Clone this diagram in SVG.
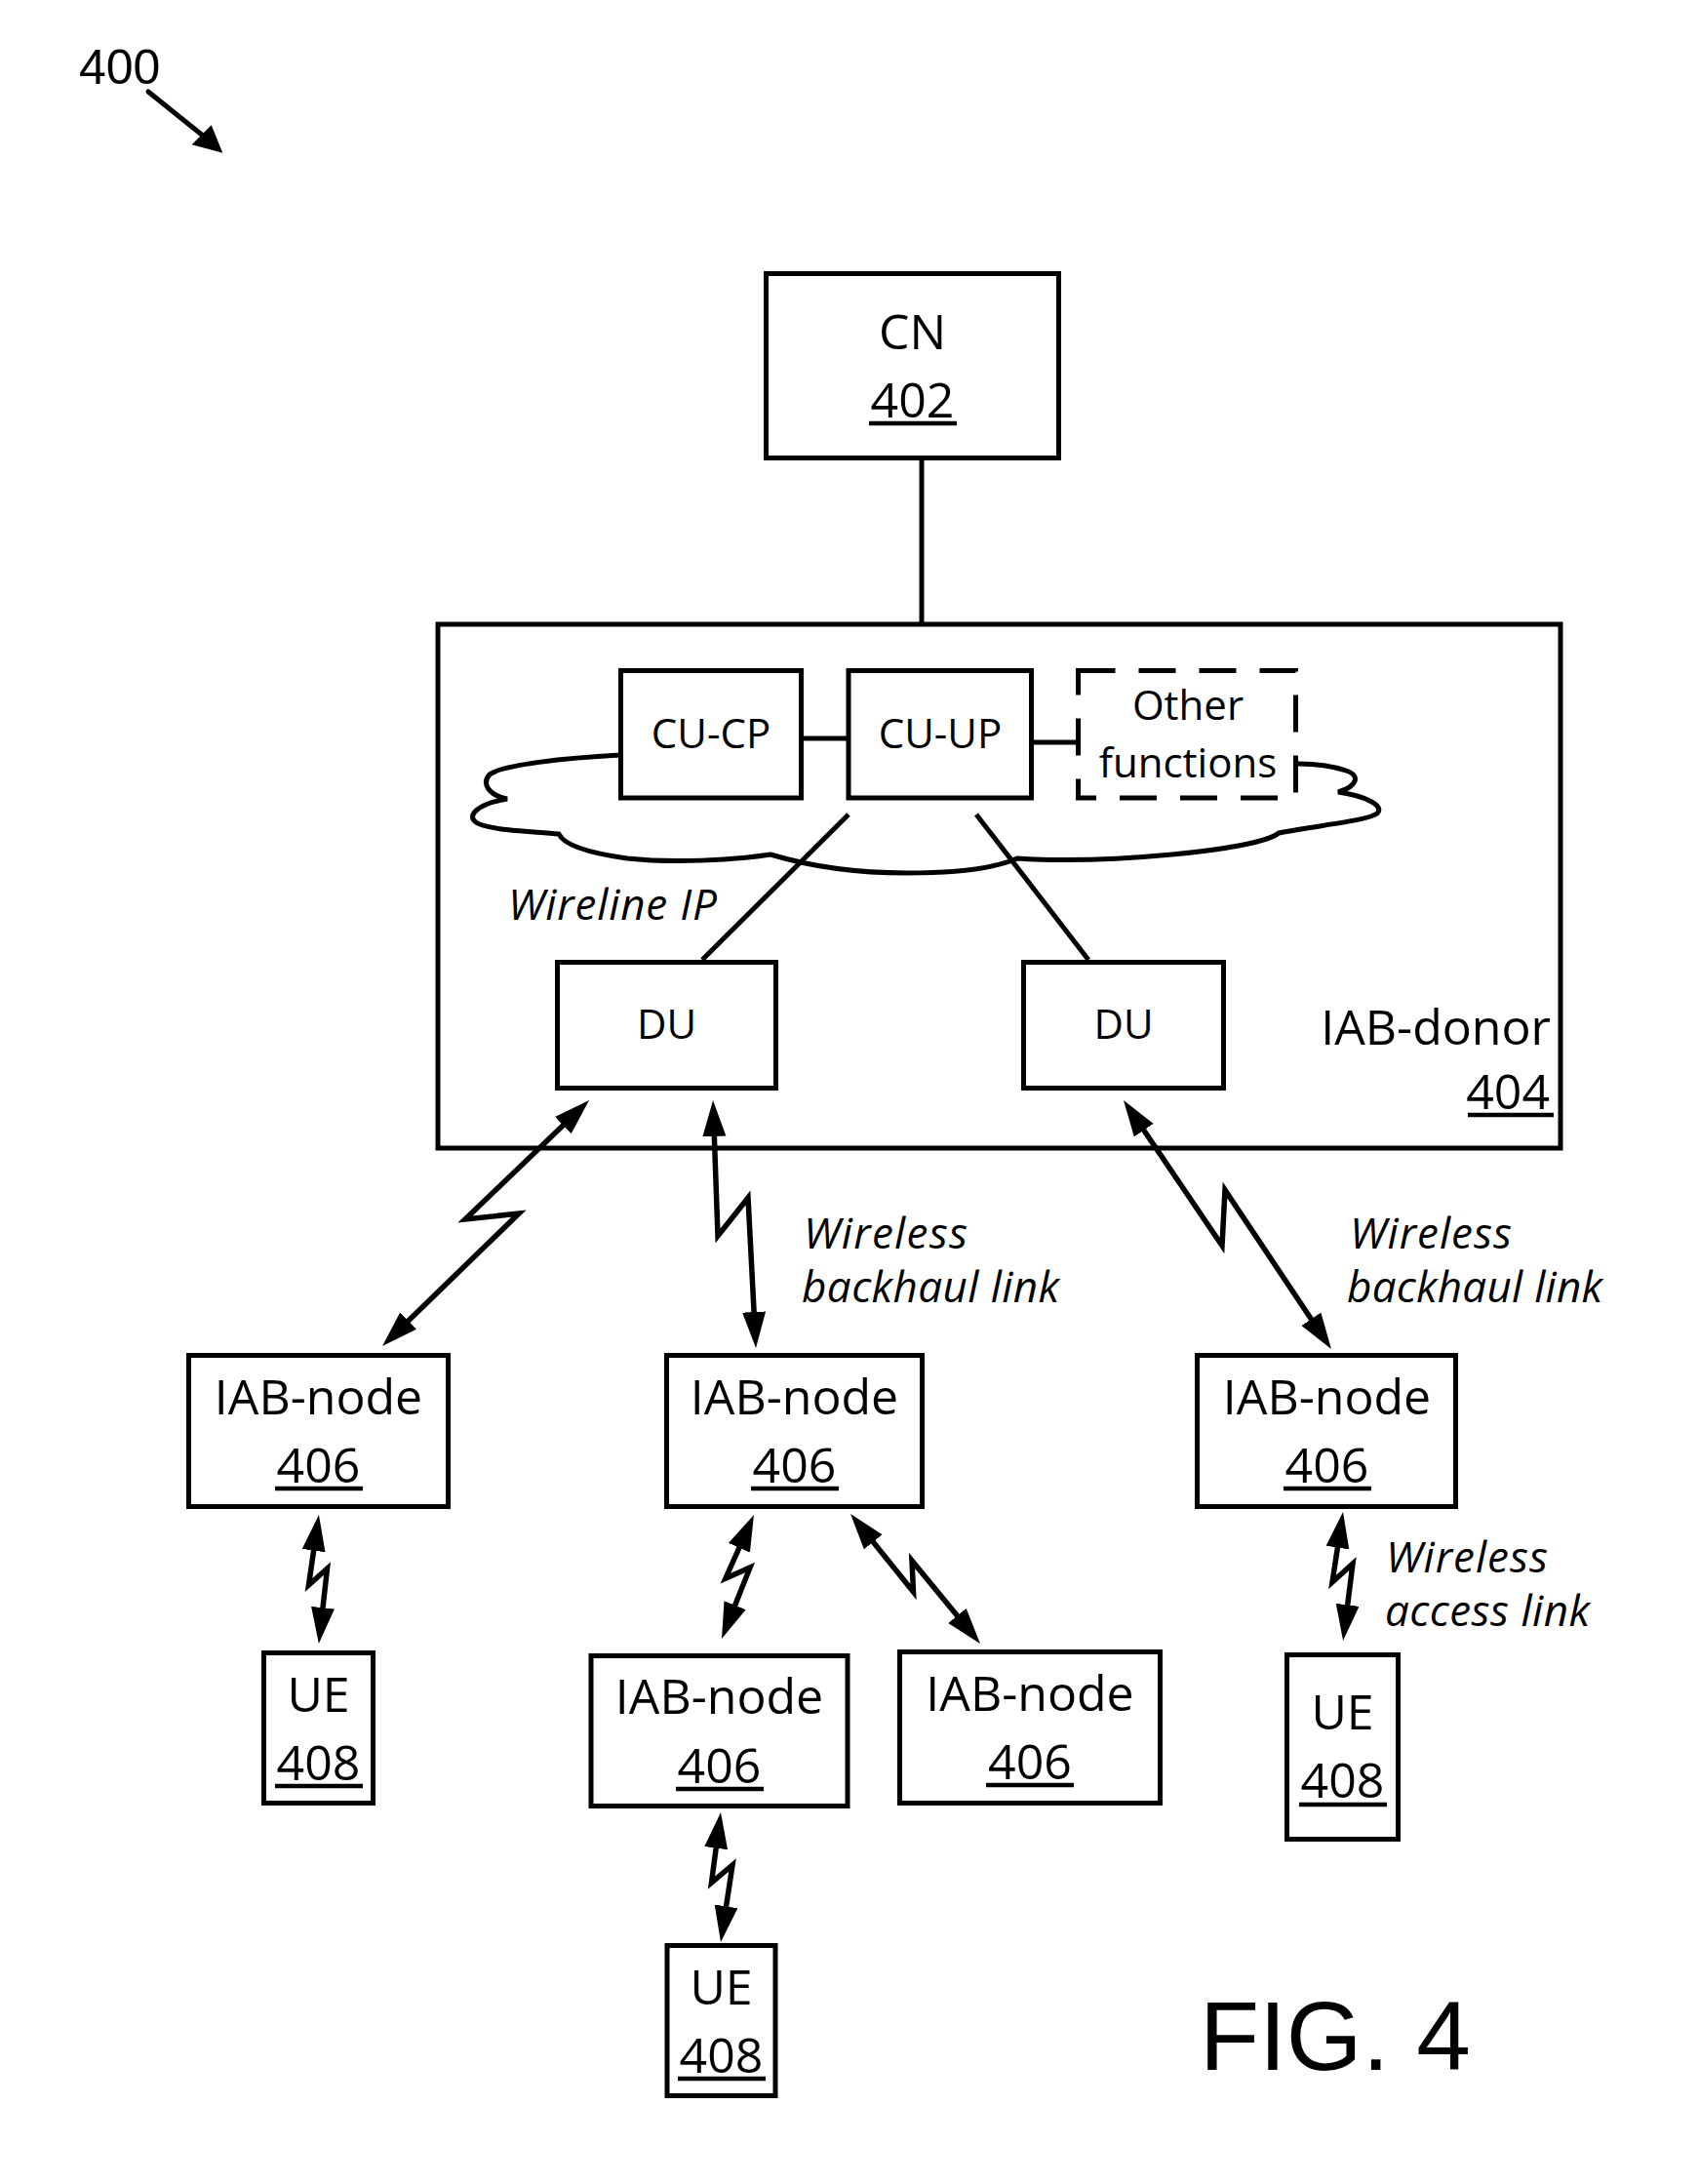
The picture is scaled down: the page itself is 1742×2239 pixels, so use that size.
<svg xmlns="http://www.w3.org/2000/svg" width="1742" height="2239" viewBox="0 0 1742 2239">
<style>
.box{fill:#fff;stroke:#000;stroke-width:5}
.dash{fill:#fff;stroke:#000;stroke-width:5;stroke-dasharray:38 24}
.ln{fill:none;stroke:#000;stroke-width:5}
.arr{fill:none;stroke:#000;stroke-width:5.5;stroke-linejoin:miter;marker-start:url(#ah);marker-end:url(#ah)}
.ul{stroke:#000;stroke-width:4.5}
text{font-family:"Open Sans","Noto Sans",sans-serif;fill:#000}
.t50{font-size:50px;text-anchor:middle}
.t42{font-size:42px;text-anchor:middle}
.it{font-size:44px;font-style:italic}
</style>
<defs>
<marker id="ah" markerUnits="userSpaceOnUse" markerWidth="40" markerHeight="26" refX="27" refY="12" orient="auto-start-reverse">
<path d="M0,0 L37,12 L0,24 Z" fill="#000"/>
</marker>
</defs>
<rect width="1742" height="2239" fill="#fff"/>

<g id="label-400">
<text x="81" y="86" style="font-family:'Liberation Sans',Arial,sans-serif;font-size:50px">400</text>
<line x1="152" y1="94" x2="208" y2="139" stroke="#000" stroke-width="5" stroke-linecap="round"/>
<polygon points="196.7,148.3 216.7,128.3 228.3,156.7" fill="#000"/>
</g>

<g id="connectors">
<line class="ln" x1="945" y1="472" x2="945" y2="640"/>
<line class="ln" x1="824" y1="757" x2="868" y2="757"/>
<line class="ln" x1="1058" y1="761" x2="1104" y2="761"/>
<path class="ln" d="M636,774 C580,777 515,784 502,794 C494,803 500,815 520,819 C490,824 478,836 488,843 C500,851 540,852 573,855 C578,866 600,874 643,880 C690,885 750,882 790,876 C830,888 880,895 930,895 C980,895 1020,890 1043,880 C1130,886 1290,872 1311,854 C1350,846 1400,842 1412,834 C1420,826 1400,816 1372,812 C1392,806 1395,795 1380,790 C1365,785 1345,783 1331,783"/>
<line class="ln" x1="870" y1="835" x2="720" y2="984"/>
<line class="ln" x1="1001" y1="835" x2="1116" y2="984"/>
<path class="arr" d="M596.8,1134.9 L477,1250 L532,1244 L399.2,1373"/>
<path class="arr" d="M731.4,1138 L736,1267 L767,1228 L774.5,1372"/>
<path class="arr" d="M1157.6,1136.3 L1253,1277 L1256,1220 L1359.4,1374.7"/>
<path class="arr" d="M325.5,1562.9 L316.5,1625 L335.5,1608 L328,1675"/>
<path class="arr" d="M768.9,1562.1 L744,1618 L769,1607 L743.7,1670.7"/>
<path class="arr" d="M878.3,1559.8 L936.5,1632 L935,1600 L998.6,1677.3"/>
<path class="arr" d="M737.7,1867.9 L729.5,1930 L751,1912 L740.5,1981.1"/>
<path class="arr" d="M1375.5,1559.9 L1366,1622 L1387,1603 L1378.3,1672.1"/>
</g>

<g id="cn">
<rect class="box" x="785.5" y="280.5" width="300" height="189"/>
<text class="t50" x="935.5" y="358">CN</text>
<text class="t50" x="935.5" y="428">402</text>
<line class="ul" x1="891" y1="434" x2="981" y2="434"/>
</g>

<g id="iab-donor">
<rect class="ln" x="449" y="640" width="1151" height="537"/>
<text x="1590" y="1071" style="font-size:50px;text-anchor:end">IAB-donor</text>
<text x="1589" y="1137" style="font-size:50px;text-anchor:end">404</text>
<line class="ul" x1="1505" y1="1143" x2="1593" y2="1143"/>
</g>

<g id="cu-cp">
<rect class="box" x="636.5" y="687.5" width="185" height="130.5"/>
<text class="t42" x="729" y="767">CU-CP</text>
</g>
<g id="cu-up">
<rect class="box" x="870" y="687.5" width="187.5" height="130.5"/>
<text class="t42" x="964" y="767">CU-UP</text>
</g>
<g id="other-functions">
<rect class="dash" x="1105.5" y="687.5" width="223" height="130.5"/>
<text class="t42" x="1218" y="738">Other</text>
<text class="t42" x="1218" y="797">functions</text>
</g>

<g id="wireline-ip">
<text class="it" x="521" y="943" textLength="214">Wireline IP</text>
</g>

<g id="du-1">
<rect class="box" x="571.5" y="986.5" width="224" height="129"/>
<text class="t42" x="683.5" y="1065">DU</text>
</g>
<g id="du-2">
<rect class="box" x="1049.5" y="986.5" width="205" height="129"/>
<text class="t42" x="1152" y="1065">DU</text>
</g>

<g id="label-backhaul-1">
<text class="it" x="824" y="1280" textLength="168">Wireless</text>
<text class="it" x="822" y="1335" textLength="264">backhaul link</text>
</g>
<g id="label-backhaul-2">
<text class="it" x="1384" y="1280" textLength="166">Wireless</text>
<text class="it" x="1381" y="1335" textLength="262">backhaul link</text>
</g>
<g id="label-access">
<text class="it" x="1421" y="1612" textLength="166">Wireless</text>
<text class="it" x="1420" y="1667" textLength="210">access link</text>
</g>

<g id="iab-node-1">
<rect class="box" x="193.5" y="1389.5" width="266" height="155"/>
<text class="t50" x="326.5" y="1450">IAB-node</text>
<text class="t50" x="326.5" y="1520">406</text>
<line class="ul" x1="282" y1="1526" x2="372" y2="1526"/>
</g>
<g id="iab-node-2">
<rect class="box" x="683.5" y="1389.5" width="262" height="155"/>
<text class="t50" x="814.5" y="1450">IAB-node</text>
<text class="t50" x="814.5" y="1520">406</text>
<line class="ul" x1="770" y1="1526" x2="860" y2="1526"/>
</g>
<g id="iab-node-3">
<rect class="box" x="1227.5" y="1389.5" width="265" height="155"/>
<text class="t50" x="1360.5" y="1450">IAB-node</text>
<text class="t50" x="1360.5" y="1520">406</text>
<line class="ul" x1="1316" y1="1526" x2="1406" y2="1526"/>
</g>
<g id="iab-node-4">
<rect class="box" x="606" y="1697.5" width="263" height="154"/>
<text class="t50" x="737.5" y="1757">IAB-node</text>
<text class="t50" x="737.5" y="1828">406</text>
<line class="ul" x1="693" y1="1834" x2="783" y2="1834"/>
</g>
<g id="iab-node-5">
<rect class="box" x="922.5" y="1693.5" width="267" height="155"/>
<text class="t50" x="1056" y="1754">IAB-node</text>
<text class="t50" x="1056" y="1824">406</text>
<line class="ul" x1="1011" y1="1830" x2="1101" y2="1830"/>
</g>

<g id="ue-1">
<rect class="box" x="270.5" y="1694.5" width="112" height="154"/>
<text class="t50" x="326.5" y="1755">UE</text>
<text class="t50" x="326.5" y="1825">408</text>
<line class="ul" x1="282" y1="1831" x2="372" y2="1831"/>
</g>
<g id="ue-2">
<rect class="box" x="1319.5" y="1696.5" width="114" height="189"/>
<text class="t50" x="1376.5" y="1773">UE</text>
<text class="t50" x="1376.5" y="1843">408</text>
<line class="ul" x1="1332" y1="1850" x2="1422" y2="1850"/>
</g>
<g id="ue-3">
<rect class="box" x="684" y="1994.5" width="111" height="154"/>
<text class="t50" x="739.5" y="2055">UE</text>
<text class="t50" x="739.5" y="2125">408</text>
<line class="ul" x1="695" y1="2131" x2="785" y2="2131"/>
</g>

<g id="fig-label">
<text x="1230" y="2122" style="font-family:'Liberation Sans',Arial,sans-serif;font-size:100px">FIG. 4</text>
</g>
</svg>
